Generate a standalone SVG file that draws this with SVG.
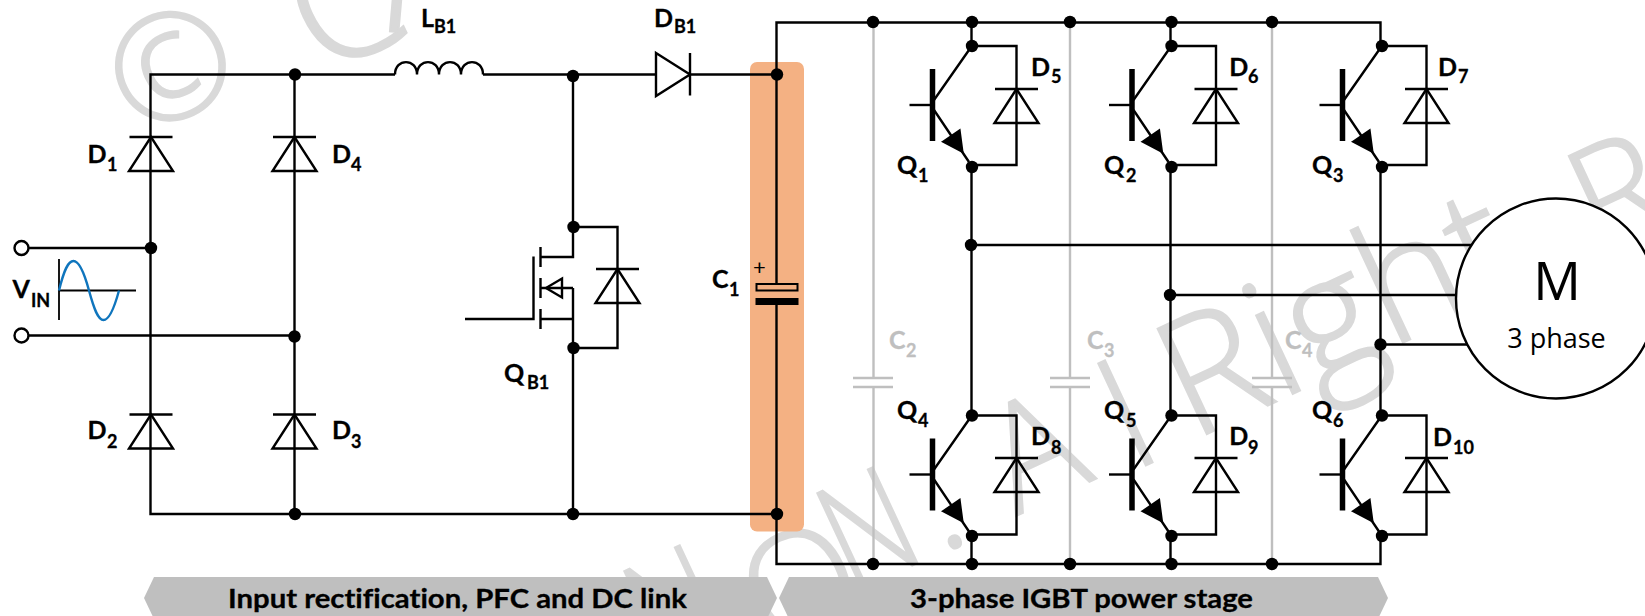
<svg xmlns="http://www.w3.org/2000/svg" width="1645" height="616" viewBox="0 0 1645 616">
<style>
text{font-family:"Lato","Open Sans","Liberation Sans",sans-serif;font-weight:700;fill:#000;stroke:#000;stroke-width:.3px;font-variant-ligatures:none}
.m{font-size:25px}.s{font-size:18px}
.gt{fill:#bfbfbf;stroke:#bfbfbf}
text.wm{font-family:"Open Sans","Liberation Sans",sans-serif;font-weight:300;fill:#d9d9d9;stroke:#d9d9d9;stroke-width:2px;font-size:148px}
text.r{font-family:"Open Sans",sans-serif;font-weight:400;stroke:none}
.w{fill:none;stroke:#000;stroke-width:2.4}
.c{fill:none;stroke:#bfbfbf;stroke-width:2.4}
.dot{fill:#000;stroke:none}
.ban{fill:#bfbfbf}
.bt{font-size:26px}
</style>
<defs>
<g id="diode" class="w"><path d="M-21.500 0H21.500"/><path d="M0 0L-22 34H22Z"/></g>
<g id="igbt" class="w">
<path d="M-62.500 59H-40"/>
<path d="M-39.500 23V95" stroke-width="5.500"/>
<path d="M-38 54L-3 4M-38 64L-3 116"/>
<path d="M-28.700 95.700L-12.500 84.700L-9.700 105.700Z" fill="#000" stroke="#000"/>
<path d="M0 0H44.500V119H0"/>
</g>
<circle id="n" r="6.200" class="dot"/>
</defs>

<rect width="1645" height="616" fill="#fff"/>

<g id="watermark">
<text class="wm" transform="translate(137 140) rotate(-25)">©</text>
<text class="wm" style="font-size:170px" transform="translate(320 77) rotate(-25)">C</text>
<text class="wm" style="font-size:170px" transform="translate(375 30) rotate(5)">l</text>
<text class="wm" transform="translate(658 672) rotate(-25) scale(.8 1)">N</text>
<text class="wm" transform="translate(771 656) rotate(-25)">O</text>
<text class="wm" transform="translate(851 594) rotate(-25) scale(.8 1)">N</text>
<text class="wm" transform="translate(941 554) rotate(-25)">.</text>
<text class="wm" transform="translate(1016 516) rotate(-25)">A</text>
<text class="wm" transform="translate(1134 471) rotate(-25)">l</text>
<text class="wm" style="font-size:163px" transform="translate(1192 441) rotate(-25)">Right</text>
<text class="wm" transform="translate(1600 258) rotate(-25)">R</text>
</g>

<rect id="dc-link-highlight" x="750" y="62" width="54" height="469.500" rx="7" fill="#f4b183"/>

<g id="connectors">
<path class="c" d="M873.500 22V378M873.500 387V564M1070 22V378M1070 387V564M1272 22V378M1272 387V564"/>
<path class="w" d="M150.500 248V74.500H395M483 74.500H656M690 74.500H776.500"/>
<path class="w" d="M150.500 248V514H776.500"/>
<path class="w" d="M294.500 74.500V514"/>
<path class="w" d="M28 248H150.500M28 335.500H294.500"/>
<path class="w" d="M573 75V257H541M573 227H617.500V348H573M573 288V514"/>
<path class="w" d="M776.500 284V22.500H1380.500V46M776.500 305V564H1380.500V534"/>
<path class="w" d="M971.500 22V46M971.500 165V415M971.500 534V564"/>
<path class="w" d="M1170.500 22V46M1170.500 165V415M1170.500 534V564"/>
<path class="w" d="M1380.500 165V415"/>
<path class="w" d="M971.500 245H1475M1170.500 295H1460M1380.500 344.500H1470"/>
<g class="dots">
<use href="#n" x="295" y="74.500"/>
<use href="#n" x="151" y="248"/>
<use href="#n" x="294.500" y="336.500"/>
<use href="#n" x="295" y="514"/>
<use href="#n" x="573" y="76"/>
<use href="#n" x="573.500" y="227"/>
<use href="#n" x="573.500" y="348"/>
<use href="#n" x="573" y="514"/>
<use href="#n" x="777" y="74.500"/>
<use href="#n" x="777" y="514"/>
<use href="#n" x="873" y="22"/>
<use href="#n" x="972" y="22"/>
<use href="#n" x="1070" y="22"/>
<use href="#n" x="1171.500" y="22"/>
<use href="#n" x="1272" y="22"/>
<use href="#n" x="873" y="564"/>
<use href="#n" x="972" y="564"/>
<use href="#n" x="1070" y="564"/>
<use href="#n" x="1171.500" y="564"/>
<use href="#n" x="1272" y="564"/>
<use href="#n" x="971" y="245"/>
<use href="#n" x="1170" y="295"/>
<use href="#n" x="1380.500" y="344.500"/>
</g>
</g>

<g id="VIN">
<circle cx="21.500" cy="248" r="7" fill="#fff" stroke="#000" stroke-width="2.400"/>
<circle cx="21.500" cy="335.500" r="7" fill="#fff" stroke="#000" stroke-width="2.400"/>
<path d="M59 259V320M59 290.500H136" fill="none" stroke="#000" stroke-width="1.800"/>
<path d="M59 290.500C64 270 68 261 73.500 261C79 261 84 272 89 290.500C94 309 98 320 103.500 320C109 320 114 309 119 290.500" fill="none" stroke="#0f75bd" stroke-width="2.400"/>
<text class="m" x="12.500" y="298">V</text><text class="s" x="31" y="307">IN</text>
</g>

<g id="D1"><use href="#diode" x="151" y="137"/><text class="m" x="87.500" y="163">D</text><text class="s" x="107" y="171">1</text></g>
<g id="D4"><use href="#diode" x="294.500" y="137"/><text class="m" x="332" y="163">D</text><text class="s" x="351" y="171">4</text></g>
<g id="D2"><use href="#diode" x="151" y="414.500"/><text class="m" x="87.500" y="439">D</text><text class="s" x="107" y="447.700">2</text></g>
<g id="D3"><use href="#diode" x="294.500" y="414.500"/><text class="m" x="332" y="439">D</text><text class="s" x="351" y="447.700">3</text></g>

<g id="LB1">
<path class="w" d="M395 74.500C395 58 417 58 417 74.500C417 58 439 58 439 74.500C439 58 461 58 461 74.500C461 58 483 58 483 74.500"/>
<text class="m" x="421" y="27">L</text><text class="s" x="434" y="33">B1</text>
</g>
<g id="DB1">
<path class="w" d="M656 53L690 74.500L656 96ZM690 53V95.500"/>
<text class="m" x="654" y="27">D</text><text class="s" x="674" y="33">B1</text>
</g>

<g id="QB1">
<g class="w">
<path d="M465 319H533.500V256.500"/>
<path d="M540.500 247V267M540.500 278V298M540.500 309V329"/>
<path d="M541 319H573M541 288H573"/>
<path d="M546 288L562 278.500V297.500Z"/>
</g>
<use href="#diode" x="617.500" y="269"/>
<text class="m" x="504" y="382">Q</text><text class="s" x="527" y="389">B1</text>
</g>

<g id="C1">
<rect x="756.500" y="284" width="41" height="6.500" fill="#f4b183" stroke="#000" stroke-width="2"/>
<rect x="755.500" y="298" width="43" height="7" fill="#000"/>
<text x="753" y="275" style="font-size:22px;font-weight:400;stroke:none">+</text>
<text class="m" x="712" y="288">C</text><text class="s" x="729" y="296">1</text>
</g>

<g id="C2"><path class="c" d="M853 378H893M853 387H893"/><text class="m gt" x="889" y="349">C</text><text class="s gt" x="906" y="357">2</text></g>
<g id="C3"><path class="c" d="M1050 378H1090M1050 387H1090"/><text class="m gt" x="1087" y="349">C</text><text class="s gt" x="1104" y="357">3</text></g>
<g id="C4"><path class="c" d="M1252 378H1292M1252 387H1292"/><text class="m gt" x="1285" y="349">C</text><text class="s gt" x="1302" y="357">4</text></g>

<g id="Q1"><use href="#igbt" x="972" y="46"/><use href="#n" x="972" y="46"/><use href="#n" x="972" y="167"/><text class="m" x="897" y="174">Q</text><text class="s" x="918" y="181.700">1</text></g>
<g id="D5"><use href="#diode" x="1016.500" y="89"/><text class="m" x="1031" y="76">D</text><text class="s" x="1051" y="83">5</text></g>
<g id="Q2"><use href="#igbt" x="1171.500" y="46"/><use href="#n" x="1171.500" y="46"/><use href="#n" x="1171.500" y="167"/><text class="m" x="1104" y="174">Q</text><text class="s" x="1126" y="181.700">2</text></g>
<g id="D6"><use href="#diode" x="1216" y="89"/><text class="m" x="1229.300" y="76">D</text><text class="s" x="1248" y="83">6</text></g>
<g id="Q3"><use href="#igbt" x="1382" y="46"/><use href="#n" x="1382" y="46"/><use href="#n" x="1382" y="167"/><text class="m" x="1312" y="174">Q</text><text class="s" x="1333" y="181.700">3</text></g>
<g id="D7"><use href="#diode" x="1426.500" y="89"/><text class="m" x="1438" y="76">D</text><text class="s" x="1458" y="83">7</text></g>
<g id="Q4"><use href="#igbt" x="972" y="415.500"/><use href="#n" x="972" y="415.500"/><use href="#n" x="972" y="536"/><text class="m" x="897" y="419">Q</text><text class="s" x="918" y="427">4</text></g>
<g id="D8"><use href="#diode" x="1016.500" y="458"/><text class="m" x="1031" y="445">D</text><text class="s" x="1051" y="453.700">8</text></g>
<g id="Q5"><use href="#igbt" x="1171.500" y="415.500"/><use href="#n" x="1171.500" y="415.500"/><use href="#n" x="1171.500" y="536"/><text class="m" x="1104" y="419">Q</text><text class="s" x="1126" y="427">5</text></g>
<g id="D9"><use href="#diode" x="1216" y="458"/><text class="m" x="1229.300" y="445">D</text><text class="s" x="1248" y="453.700">9</text></g>
<g id="Q6"><use href="#igbt" x="1382" y="415.500"/><use href="#n" x="1382" y="415.500"/><use href="#n" x="1382" y="536"/><text class="m" x="1312" y="419">Q</text><text class="s" x="1333" y="427">6</text></g>
<g id="D10"><use href="#diode" x="1426.500" y="458"/><text class="m" x="1433" y="446">D</text><text class="s" x="1453" y="453.700">10</text></g>

<g id="motor">
<circle cx="1556" cy="298.500" r="100" fill="#fff" stroke="#000" stroke-width="2.400"/>
<text class="r" x="1557" y="300" text-anchor="middle" style="font-size:53px">M</text>
<text class="r" x="1556.500" y="348" text-anchor="middle" style="font-size:27px">3 phase</text>
</g>

<g id="banner-input">
<path class="ban" d="M154 577H767L777 598L767 619H154L144 598Z"/>
<text class="bt" x="228" y="607.700" textLength="459" lengthAdjust="spacingAndGlyphs">Input rectification, PFC and DC link</text>
</g>
<g id="banner-stage">
<path class="ban" d="M789 577H1378L1388 598L1378 619H789L779 598Z"/>
<text class="bt" x="910" y="607.700" textLength="343" lengthAdjust="spacingAndGlyphs">3-phase IGBT power stage</text>
</g>
</svg>
